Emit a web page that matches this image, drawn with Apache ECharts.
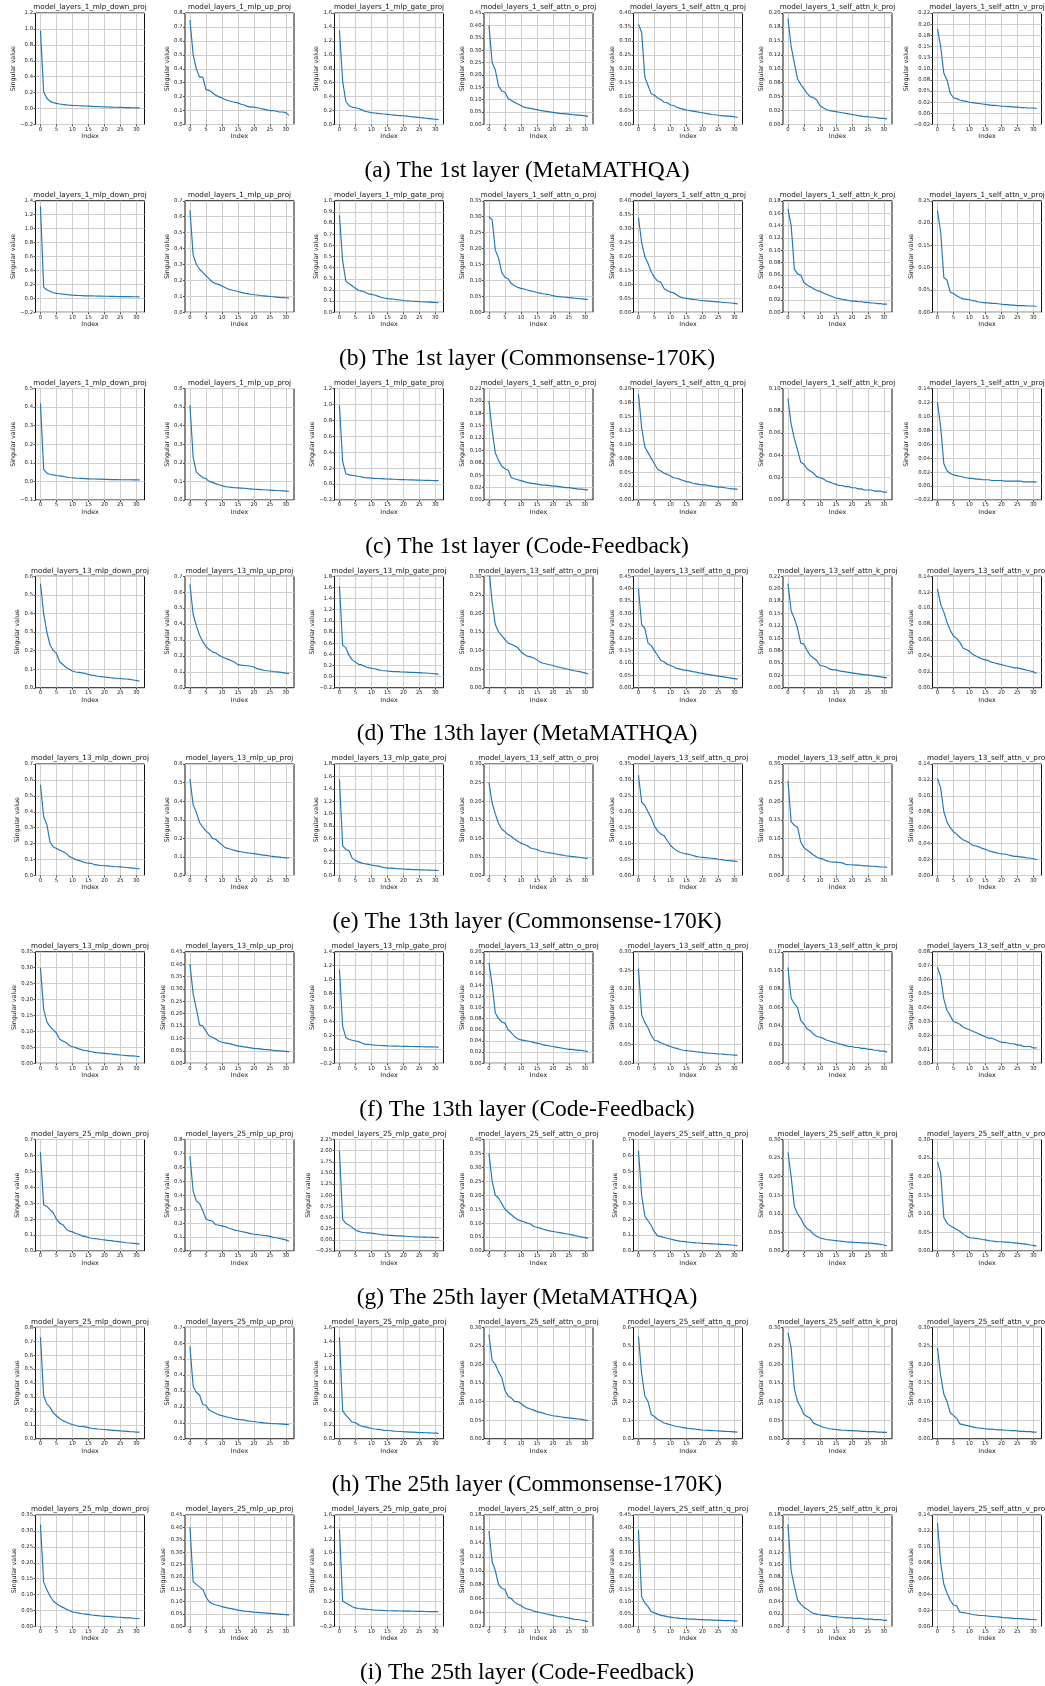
<!DOCTYPE html>
<html><head><meta charset="utf-8">
<script src="https://cdn.jsdelivr.net/npm/echarts@6/dist/echarts.min.js"></script>
<style>html,body{margin:0;padding:0;background:#fff}#c{width:1045px;height:1686px}</style>
</head><body><div id="c"></div>
<script>
// ---------- text ----------
const captions = [
  '(a) The 1st layer (MetaMATHQA)', '(b) The 1st layer (Commonsense-170K)', '(c) The 1st layer (Code-Feedback)',
  '(d) The 13th layer (MetaMATHQA)', '(e) The 13th layer (Commonsense-170K)', '(f) The 13th layer (Code-Feedback)',
  '(g) The 25th layer (MetaMATHQA)', '(h) The 25th layer (Commonsense-170K)', '(i) The 25th layer (Code-Feedback)'
];
const layers = [1, 1, 1, 13, 13, 13, 25, 25, 25];
const modules = ['mlp_down_proj', 'mlp_up_proj', 'mlp_gate_proj', 'self_attn_o_proj', 'self_attn_q_proj', 'self_attn_k_proj', 'self_attn_v_proj'];
const xTicks = [0, 5, 10, 15, 20, 25, 30];

// ---------- singular values (index 0..31), one row of 7 panels each ----------
const rowA = [
  [0.98,0.21,0.13,0.09,0.075,0.065,0.058,0.052,0.047,0.043,0.040,0.038,0.036,0.034,0.032,0.030,0.028,0.026,0.025,0.023,0.022,0.020,0.019,0.017,0.016,0.015,0.013,0.012,0.011,0.010,0.009,0.008],
  [0.75,0.50,0.40,0.34,0.34,0.25,0.245,0.23,0.21,0.20,0.19,0.18,0.17,0.165,0.16,0.155,0.145,0.14,0.13,0.125,0.125,0.12,0.115,0.11,0.105,0.10,0.10,0.095,0.09,0.09,0.085,0.065],
  [1.35,0.62,0.33,0.27,0.25,0.24,0.23,0.21,0.19,0.18,0.17,0.165,0.16,0.155,0.15,0.145,0.14,0.135,0.13,0.128,0.125,0.12,0.115,0.11,0.105,0.10,0.095,0.09,0.085,0.08,0.075,0.07],
  [0.40,0.25,0.22,0.155,0.135,0.13,0.105,0.097,0.09,0.083,0.077,0.07,0.067,0.065,0.062,0.06,0.057,0.055,0.053,0.051,0.049,0.047,0.045,0.044,0.043,0.042,0.040,0.039,0.038,0.037,0.035,0.033],
  [0.36,0.33,0.17,0.14,0.11,0.105,0.095,0.09,0.08,0.078,0.07,0.068,0.062,0.058,0.055,0.052,0.05,0.048,0.046,0.044,0.042,0.04,0.038,0.036,0.035,0.033,0.032,0.031,0.030,0.029,0.028,0.025],
  [0.19,0.14,0.11,0.082,0.072,0.064,0.056,0.05,0.048,0.044,0.034,0.03,0.027,0.025,0.024,0.023,0.022,0.021,0.020,0.019,0.018,0.017,0.016,0.015,0.014,0.014,0.013,0.013,0.012,0.011,0.011,0.010],
  [0.19,0.15,0.09,0.075,0.045,0.035,0.033,0.03,0.028,0.027,0.025,0.024,0.023,0.022,0.021,0.020,0.019,0.018,0.018,0.017,0.016,0.016,0.015,0.015,0.014,0.014,0.013,0.013,0.012,0.012,0.012,0.011]
];
const rowB = [
  [1.32,0.16,0.12,0.10,0.08,0.07,0.065,0.06,0.055,0.05,0.045,0.043,0.04,0.038,0.036,0.035,0.034,0.033,0.032,0.031,0.030,0.029,0.028,0.027,0.026,0.025,0.025,0.024,0.024,0.023,0.022,0.021],
  [0.64,0.36,0.30,0.27,0.25,0.23,0.21,0.19,0.18,0.175,0.165,0.155,0.145,0.14,0.135,0.13,0.125,0.12,0.117,0.113,0.11,0.108,0.105,0.103,0.101,0.099,0.097,0.095,0.093,0.092,0.091,0.089],
  [0.87,0.46,0.28,0.255,0.235,0.215,0.195,0.19,0.18,0.165,0.16,0.155,0.145,0.135,0.128,0.122,0.12,0.117,0.113,0.11,0.105,0.103,0.101,0.099,0.097,0.095,0.094,0.092,0.091,0.089,0.087,0.085],
  [0.30,0.29,0.195,0.17,0.125,0.11,0.105,0.09,0.083,0.078,0.075,0.073,0.07,0.067,0.065,0.062,0.06,0.058,0.057,0.055,0.052,0.05,0.049,0.048,0.047,0.046,0.045,0.044,0.043,0.042,0.041,0.040],
  [0.34,0.25,0.20,0.175,0.145,0.125,0.112,0.108,0.085,0.078,0.072,0.07,0.062,0.055,0.052,0.05,0.048,0.046,0.045,0.043,0.042,0.041,0.040,0.039,0.038,0.037,0.036,0.035,0.034,0.033,0.032,0.030],
  [0.167,0.14,0.07,0.062,0.06,0.048,0.044,0.041,0.038,0.035,0.034,0.031,0.029,0.027,0.025,0.023,0.022,0.021,0.020,0.019,0.018,0.018,0.017,0.017,0.016,0.016,0.015,0.015,0.014,0.014,0.013,0.013],
  [0.228,0.18,0.078,0.072,0.045,0.042,0.037,0.033,0.03,0.029,0.028,0.026,0.025,0.023,0.022,0.021,0.021,0.020,0.020,0.019,0.018,0.017,0.017,0.016,0.016,0.015,0.015,0.015,0.014,0.014,0.014,0.013]
];
const rowC = [
  [0.42,0.065,0.045,0.037,0.035,0.032,0.03,0.027,0.024,0.021,0.02,0.018,0.017,0.016,0.015,0.014,0.013,0.013,0.012,0.012,0.011,0.011,0.010,0.010,0.010,0.009,0.009,0.009,0.009,0.008,0.008,0.008],
  [0.51,0.23,0.15,0.135,0.12,0.115,0.10,0.095,0.088,0.082,0.077,0.072,0.07,0.068,0.066,0.065,0.064,0.063,0.061,0.06,0.058,0.057,0.056,0.055,0.054,0.053,0.052,0.051,0.05,0.049,0.048,0.047],
  [0.99,0.28,0.13,0.115,0.11,0.105,0.095,0.09,0.08,0.078,0.075,0.072,0.07,0.068,0.066,0.064,0.062,0.06,0.058,0.056,0.055,0.054,0.053,0.052,0.05,0.049,0.048,0.047,0.046,0.045,0.044,0.043],
  [0.20,0.14,0.095,0.08,0.068,0.063,0.06,0.045,0.043,0.041,0.039,0.037,0.035,0.034,0.033,0.032,0.031,0.030,0.030,0.029,0.028,0.028,0.027,0.026,0.025,0.025,0.024,0.023,0.022,0.022,0.021,0.020],
  [0.19,0.13,0.095,0.085,0.075,0.065,0.055,0.052,0.048,0.046,0.043,0.04,0.039,0.037,0.035,0.033,0.032,0.030,0.029,0.028,0.027,0.027,0.026,0.025,0.024,0.023,0.023,0.022,0.021,0.020,0.020,0.019],
  [0.091,0.068,0.055,0.045,0.034,0.032,0.028,0.026,0.024,0.021,0.02,0.019,0.017,0.016,0.015,0.014,0.013,0.013,0.012,0.012,0.011,0.011,0.010,0.010,0.009,0.009,0.009,0.008,0.008,0.008,0.007,0.007],
  [0.12,0.085,0.032,0.022,0.018,0.016,0.015,0.014,0.013,0.012,0.011,0.011,0.010,0.010,0.009,0.009,0.009,0.008,0.008,0.008,0.008,0.007,0.007,0.007,0.007,0.007,0.007,0.006,0.006,0.006,0.006,0.006]
];
const rowD = [
  [0.56,0.40,0.30,0.23,0.20,0.185,0.14,0.125,0.11,0.10,0.09,0.085,0.083,0.08,0.077,0.072,0.068,0.065,0.062,0.06,0.058,0.056,0.054,0.052,0.051,0.05,0.048,0.047,0.045,0.042,0.039,0.036],
  [0.65,0.46,0.39,0.33,0.29,0.26,0.24,0.225,0.22,0.205,0.195,0.185,0.178,0.17,0.16,0.145,0.142,0.14,0.138,0.135,0.13,0.12,0.115,0.11,0.107,0.105,0.102,0.10,0.098,0.095,0.092,0.09],
  [1.62,0.56,0.52,0.38,0.30,0.26,0.22,0.21,0.18,0.16,0.15,0.14,0.125,0.11,0.105,0.10,0.095,0.09,0.088,0.085,0.083,0.08,0.077,0.075,0.072,0.07,0.067,0.065,0.06,0.055,0.05,0.045],
  [0.32,0.23,0.17,0.15,0.14,0.13,0.12,0.117,0.113,0.108,0.097,0.09,0.085,0.083,0.08,0.075,0.069,0.066,0.064,0.062,0.06,0.057,0.055,0.053,0.051,0.049,0.047,0.045,0.044,0.042,0.040,0.037],
  [0.40,0.255,0.24,0.18,0.17,0.15,0.13,0.11,0.105,0.095,0.09,0.085,0.078,0.075,0.072,0.07,0.068,0.065,0.063,0.06,0.058,0.055,0.053,0.051,0.049,0.047,0.045,0.043,0.041,0.039,0.037,0.035],
  [0.21,0.155,0.14,0.12,0.09,0.088,0.075,0.065,0.06,0.055,0.045,0.044,0.042,0.038,0.036,0.036,0.034,0.033,0.032,0.031,0.030,0.029,0.028,0.027,0.026,0.026,0.025,0.024,0.023,0.022,0.021,0.020],
  [0.124,0.105,0.095,0.082,0.072,0.065,0.062,0.057,0.05,0.048,0.046,0.042,0.04,0.038,0.036,0.035,0.034,0.032,0.031,0.030,0.029,0.028,0.027,0.026,0.025,0.025,0.024,0.023,0.022,0.021,0.020,0.018]
];
const rowE = [
  [0.57,0.37,0.32,0.21,0.18,0.17,0.16,0.15,0.14,0.12,0.11,0.10,0.095,0.088,0.08,0.078,0.075,0.068,0.065,0.063,0.061,0.06,0.058,0.056,0.055,0.054,0.052,0.05,0.048,0.046,0.044,0.042],
  [0.52,0.38,0.34,0.285,0.26,0.24,0.225,0.20,0.195,0.18,0.165,0.15,0.145,0.14,0.135,0.13,0.128,0.125,0.122,0.12,0.118,0.115,0.112,0.11,0.108,0.105,0.103,0.101,0.099,0.097,0.095,0.094],
  [1.55,0.48,0.42,0.40,0.28,0.24,0.22,0.20,0.19,0.18,0.17,0.16,0.155,0.14,0.13,0.12,0.118,0.115,0.11,0.108,0.105,0.10,0.098,0.096,0.094,0.092,0.09,0.088,0.086,0.084,0.082,0.08],
  [0.25,0.195,0.165,0.14,0.125,0.118,0.11,0.105,0.098,0.092,0.087,0.084,0.08,0.074,0.072,0.07,0.066,0.064,0.062,0.061,0.06,0.058,0.056,0.055,0.053,0.052,0.051,0.05,0.049,0.048,0.047,0.045],
  [0.315,0.23,0.22,0.20,0.18,0.155,0.14,0.13,0.125,0.11,0.095,0.085,0.078,0.073,0.07,0.068,0.066,0.063,0.06,0.058,0.057,0.056,0.055,0.054,0.053,0.051,0.05,0.048,0.047,0.046,0.045,0.043],
  [0.255,0.145,0.135,0.13,0.09,0.075,0.068,0.062,0.055,0.05,0.046,0.044,0.04,0.037,0.036,0.036,0.035,0.034,0.030,0.029,0.029,0.028,0.028,0.027,0.026,0.026,0.025,0.025,0.024,0.023,0.023,0.022],
  [0.122,0.11,0.08,0.067,0.06,0.055,0.052,0.048,0.045,0.043,0.041,0.038,0.037,0.036,0.034,0.033,0.031,0.030,0.029,0.028,0.027,0.027,0.026,0.025,0.024,0.024,0.023,0.023,0.022,0.022,0.021,0.020]
];
const rowF = [
  [0.30,0.17,0.13,0.115,0.105,0.095,0.075,0.07,0.065,0.056,0.052,0.049,0.045,0.042,0.04,0.038,0.036,0.034,0.033,0.032,0.031,0.030,0.029,0.028,0.027,0.026,0.025,0.024,0.023,0.023,0.022,0.021],
  [0.40,0.28,0.22,0.155,0.15,0.13,0.11,0.105,0.098,0.09,0.085,0.082,0.08,0.077,0.073,0.07,0.068,0.066,0.064,0.062,0.06,0.059,0.058,0.056,0.055,0.054,0.052,0.051,0.05,0.049,0.048,0.046],
  [1.15,0.33,0.17,0.14,0.13,0.12,0.11,0.09,0.075,0.07,0.065,0.06,0.058,0.055,0.053,0.05,0.048,0.046,0.045,0.044,0.043,0.042,0.041,0.040,0.039,0.038,0.037,0.036,0.035,0.034,0.033,0.032],
  [0.18,0.14,0.09,0.08,0.074,0.072,0.06,0.055,0.048,0.044,0.042,0.041,0.040,0.039,0.037,0.036,0.035,0.033,0.032,0.031,0.030,0.029,0.028,0.027,0.026,0.025,0.025,0.024,0.023,0.023,0.022,0.021],
  [0.255,0.13,0.11,0.095,0.075,0.062,0.06,0.055,0.052,0.048,0.045,0.042,0.04,0.037,0.035,0.034,0.033,0.032,0.031,0.030,0.029,0.028,0.027,0.027,0.026,0.025,0.025,0.024,0.023,0.023,0.022,0.022],
  [0.103,0.07,0.064,0.06,0.046,0.042,0.037,0.035,0.031,0.029,0.028,0.027,0.025,0.024,0.023,0.022,0.021,0.020,0.019,0.018,0.018,0.017,0.017,0.016,0.016,0.015,0.015,0.014,0.014,0.013,0.013,0.012],
  [0.069,0.062,0.046,0.038,0.034,0.030,0.029,0.028,0.026,0.025,0.024,0.023,0.022,0.021,0.020,0.019,0.018,0.018,0.017,0.016,0.015,0.015,0.0145,0.014,0.014,0.013,0.013,0.012,0.012,0.012,0.011,0.011]
];
const rowG = [
  [0.62,0.29,0.28,0.26,0.24,0.20,0.175,0.165,0.14,0.125,0.12,0.11,0.105,0.095,0.09,0.085,0.08,0.078,0.075,0.072,0.07,0.067,0.065,0.062,0.06,0.057,0.055,0.052,0.05,0.048,0.046,0.043],
  [0.68,0.43,0.36,0.34,0.29,0.23,0.22,0.215,0.19,0.185,0.18,0.175,0.165,0.158,0.15,0.145,0.14,0.135,0.13,0.125,0.12,0.118,0.115,0.112,0.11,0.105,0.098,0.095,0.09,0.085,0.08,0.07],
  [2.0,0.46,0.37,0.33,0.28,0.22,0.19,0.17,0.16,0.155,0.15,0.14,0.13,0.12,0.11,0.105,0.10,0.095,0.09,0.088,0.085,0.08,0.075,0.07,0.068,0.065,0.062,0.06,0.058,0.055,0.052,0.05],
  [0.35,0.25,0.20,0.19,0.17,0.15,0.14,0.13,0.12,0.112,0.108,0.105,0.10,0.097,0.088,0.085,0.082,0.078,0.075,0.072,0.07,0.068,0.066,0.064,0.062,0.06,0.058,0.055,0.053,0.05,0.048,0.046],
  [0.63,0.35,0.22,0.19,0.16,0.12,0.095,0.09,0.085,0.08,0.075,0.07,0.065,0.062,0.06,0.057,0.055,0.053,0.051,0.05,0.048,0.047,0.046,0.045,0.044,0.043,0.042,0.041,0.040,0.038,0.036,0.032],
  [0.265,0.20,0.12,0.10,0.088,0.07,0.06,0.055,0.045,0.04,0.035,0.033,0.031,0.03,0.029,0.028,0.027,0.026,0.025,0.024,0.024,0.023,0.023,0.022,0.022,0.021,0.021,0.020,0.019,0.018,0.016,0.014],
  [0.24,0.21,0.09,0.075,0.068,0.063,0.058,0.053,0.046,0.04,0.036,0.035,0.034,0.033,0.031,0.030,0.028,0.027,0.026,0.025,0.025,0.024,0.024,0.023,0.022,0.021,0.020,0.019,0.018,0.016,0.015,0.013]
];
const rowH = [
  [0.73,0.31,0.25,0.225,0.185,0.165,0.145,0.13,0.12,0.11,0.102,0.095,0.09,0.088,0.085,0.08,0.075,0.073,0.07,0.068,0.066,0.064,0.062,0.06,0.058,0.056,0.055,0.053,0.051,0.05,0.048,0.047],
  [0.58,0.33,0.29,0.275,0.215,0.21,0.18,0.17,0.16,0.15,0.145,0.14,0.135,0.13,0.125,0.122,0.12,0.117,0.112,0.11,0.108,0.105,0.103,0.10,0.098,0.096,0.095,0.094,0.093,0.092,0.090,0.088],
  [1.46,0.40,0.34,0.29,0.24,0.23,0.20,0.18,0.17,0.16,0.15,0.14,0.135,0.13,0.12,0.118,0.115,0.11,0.107,0.104,0.10,0.098,0.096,0.094,0.092,0.09,0.088,0.086,0.084,0.082,0.08,0.078],
  [0.28,0.21,0.20,0.18,0.165,0.13,0.115,0.11,0.10,0.10,0.095,0.088,0.083,0.08,0.077,0.073,0.071,0.069,0.066,0.064,0.062,0.061,0.06,0.058,0.057,0.056,0.055,0.054,0.053,0.052,0.05,0.049],
  [0.55,0.35,0.23,0.20,0.13,0.12,0.105,0.095,0.085,0.08,0.075,0.07,0.066,0.063,0.06,0.057,0.055,0.053,0.051,0.049,0.047,0.046,0.045,0.044,0.043,0.042,0.041,0.040,0.039,0.038,0.037,0.036],
  [0.285,0.245,0.135,0.10,0.085,0.065,0.06,0.055,0.042,0.038,0.035,0.031,0.029,0.027,0.026,0.025,0.024,0.023,0.023,0.022,0.022,0.021,0.021,0.020,0.020,0.019,0.019,0.019,0.018,0.018,0.017,0.017],
  [0.245,0.17,0.12,0.10,0.07,0.063,0.055,0.04,0.038,0.036,0.034,0.032,0.030,0.029,0.028,0.027,0.026,0.026,0.025,0.024,0.024,0.023,0.023,0.022,0.022,0.021,0.020,0.020,0.019,0.019,0.018,0.018]
];
const rowI = [
  [0.32,0.14,0.115,0.095,0.08,0.072,0.065,0.06,0.055,0.05,0.046,0.044,0.042,0.04,0.039,0.038,0.036,0.035,0.034,0.033,0.032,0.032,0.031,0.030,0.029,0.029,0.028,0.027,0.027,0.026,0.025,0.025],
  [0.40,0.18,0.17,0.16,0.15,0.12,0.10,0.092,0.088,0.085,0.08,0.077,0.074,0.072,0.069,0.066,0.064,0.062,0.061,0.06,0.058,0.057,0.056,0.055,0.054,0.053,0.052,0.051,0.050,0.049,0.048,0.047],
  [1.37,0.21,0.18,0.15,0.12,0.10,0.09,0.085,0.08,0.075,0.07,0.065,0.062,0.06,0.058,0.056,0.055,0.053,0.052,0.05,0.049,0.048,0.047,0.046,0.045,0.044,0.043,0.042,0.041,0.040,0.039,0.038],
  [0.157,0.113,0.10,0.08,0.075,0.073,0.062,0.06,0.055,0.052,0.05,0.047,0.045,0.044,0.042,0.041,0.040,0.039,0.038,0.037,0.036,0.035,0.034,0.034,0.033,0.032,0.031,0.030,0.030,0.029,0.028,0.027],
  [0.39,0.12,0.095,0.08,0.06,0.055,0.05,0.045,0.043,0.04,0.038,0.036,0.035,0.033,0.032,0.031,0.030,0.030,0.029,0.028,0.028,0.027,0.027,0.026,0.026,0.025,0.025,0.024,0.024,0.023,0.023,0.022],
  [0.165,0.09,0.065,0.043,0.036,0.031,0.028,0.024,0.021,0.02,0.019,0.018,0.018,0.017,0.016,0.016,0.015,0.015,0.014,0.014,0.014,0.013,0.013,0.013,0.012,0.012,0.012,0.011,0.011,0.011,0.010,0.010],
  [0.13,0.08,0.053,0.042,0.033,0.027,0.026,0.018,0.0175,0.017,0.016,0.015,0.0145,0.014,0.0138,0.0135,0.013,0.0127,0.0123,0.012,0.0115,0.011,0.0108,0.0105,0.0102,0.010,0.0098,0.0096,0.0093,0.009,0.0088,0.0086]
];

// ---------- y axes: lowest tick, tick step, tick labels (bottom to top) ----------
const yMinA = [-0.2, 0, 0, 0, 0, 0, -0.025];
const yStepA = [0.2, 0.1, 0.2, 0.05, 0.05, 0.025, 0.025];
const yLabA = ['−0.2 0.0 0.2 0.4 0.6 0.8 1.0 1.2', '0.0 0.1 0.2 0.3 0.4 0.5 0.6 0.7 0.8', '0.0 0.2 0.4 0.6 0.8 1.0 1.2 1.4 1.6',
  '0.00 0.05 0.10 0.15 0.20 0.25 0.30 0.35 0.40 0.45', '0.00 0.05 0.10 0.15 0.20 0.25 0.30 0.35 0.40',
  '0.00 0.02 0.05 0.08 0.10 0.12 0.15 0.18 0.20', '−0.02 0.00 0.02 0.05 0.08 0.10 0.13 0.15 0.18 0.20 0.22'];
const yMinB = [-0.2, 0, 0, 0, 0, 0, 0];
const yStepB = [0.2, 0.1, 0.1, 0.05, 0.05, 0.02, 0.05];
const yLabB = ['−0.2 0.0 0.2 0.4 0.6 0.8 1.0 1.2 1.4', '0.0 0.1 0.2 0.3 0.4 0.5 0.6 0.7', '0.0 0.1 0.2 0.3 0.4 0.5 0.6 0.7 0.8 0.9 1.0',
  '0.00 0.05 0.10 0.15 0.20 0.25 0.30 0.35', '0.00 0.05 0.10 0.15 0.20 0.25 0.30 0.35 0.40',
  '0.00 0.02 0.04 0.06 0.08 0.10 0.12 0.14 0.16 0.18', '0.00 0.05 0.10 0.15 0.20 0.25'];
const yMinC = [-0.1, 0, -0.2, 0, 0, 0, -0.02];
const yStepC = [0.1, 0.1, 0.2, 0.025, 0.025, 0.02, 0.02];
const yLabC = ['−0.1 0.0 0.1 0.2 0.3 0.4 0.5', '0.0 0.1 0.2 0.3 0.4 0.5 0.6', '−0.2 0.0 0.2 0.4 0.6 0.8 1.0 1.2',
  '0.00 0.02 0.05 0.08 0.10 0.12 0.15 0.18 0.20 0.22', '0.00 0.02 0.05 0.08 0.10 0.12 0.15 0.18 0.20',
  '0.00 0.02 0.04 0.06 0.08 0.10', '−0.02 0.00 0.02 0.04 0.06 0.08 0.10 0.12 0.14'];
const yMinD = [0, 0, -0.2, 0, 0, 0, 0];
const yStepD = [0.1, 0.1, 0.2, 0.05, 0.05, 0.025, 0.02];
const yLabD = ['0.0 0.1 0.2 0.3 0.4 0.5 0.6', '0.0 0.1 0.2 0.3 0.4 0.5 0.6 0.7', '−0.2 0.0 0.2 0.4 0.6 0.8 1.0 1.2 1.4 1.6 1.8',
  '0.00 0.05 0.10 0.15 0.20 0.25 0.30', '0.00 0.05 0.10 0.15 0.20 0.25 0.30 0.35 0.40 0.45',
  '0.00 0.02 0.05 0.08 0.10 0.12 0.15 0.18 0.20 0.22', '0.00 0.02 0.04 0.06 0.08 0.10 0.12 0.14'];
const yMinE = [0, 0, 0, 0, 0, 0, 0];
const yStepE = [0.1, 0.1, 0.2, 0.05, 0.05, 0.05, 0.02];
const yLabE = ['0.0 0.1 0.2 0.3 0.4 0.5 0.6 0.7', '0.0 0.1 0.2 0.3 0.4 0.5 0.6', '0.0 0.2 0.4 0.6 0.8 1.0 1.2 1.4 1.6 1.8',
  '0.00 0.05 0.10 0.15 0.20 0.25 0.30', '0.00 0.05 0.10 0.15 0.20 0.25 0.30 0.35',
  '0.00 0.05 0.10 0.15 0.20 0.25 0.30', '0.00 0.02 0.04 0.06 0.08 0.10 0.12 0.14'];
const yMinF = [0, 0, -0.2, 0, 0, 0, 0];
const yStepF = [0.05, 0.05, 0.2, 0.02, 0.05, 0.02, 0.01];
const yLabF = ['0.00 0.05 0.10 0.15 0.20 0.25 0.30 0.35', '0.00 0.05 0.10 0.15 0.20 0.25 0.30 0.35 0.40 0.45', '−0.2 0.0 0.2 0.4 0.6 0.8 1.0 1.2 1.4',
  '0.00 0.02 0.04 0.06 0.08 0.10 0.12 0.14 0.16 0.18 0.20', '0.00 0.05 0.10 0.15 0.20 0.25 0.30',
  '0.00 0.02 0.04 0.06 0.08 0.10 0.12', '0.00 0.01 0.02 0.03 0.04 0.05 0.06 0.07 0.08'];
const yMinG = [0, 0, -0.25, 0, 0, 0, 0];
const yStepG = [0.1, 0.1, 0.25, 0.05, 0.1, 0.05, 0.05];
const yLabG = ['0.0 0.1 0.2 0.3 0.4 0.5 0.6 0.7', '0.0 0.1 0.2 0.3 0.4 0.5 0.6 0.7 0.8', '−0.25 0.00 0.25 0.50 0.75 1.00 1.25 1.50 1.75 2.00 2.25',
  '0.00 0.05 0.10 0.15 0.20 0.25 0.30 0.35 0.40', '0.0 0.1 0.2 0.3 0.4 0.5 0.6 0.7',
  '0.00 0.05 0.10 0.15 0.20 0.25 0.30', '0.00 0.05 0.10 0.15 0.20 0.25 0.30'];
const yMinH = [0, 0, 0, 0, 0, 0, 0];
const yStepH = [0.1, 0.1, 0.2, 0.05, 0.1, 0.05, 0.05];
const yLabH = ['0.0 0.1 0.2 0.3 0.4 0.5 0.6 0.7 0.8', '0.0 0.1 0.2 0.3 0.4 0.5 0.6 0.7', '0.0 0.2 0.4 0.6 0.8 1.0 1.2 1.4 1.6',
  '0.00 0.05 0.10 0.15 0.20 0.25 0.30', '0.0 0.1 0.2 0.3 0.4 0.5 0.6',
  '0.00 0.05 0.10 0.15 0.20 0.25 0.30', '0.00 0.05 0.10 0.15 0.20 0.25 0.30'];
const yMinI = [0, 0, -0.2, 0.02, 0, 0, 0];
const yStepI = [0.05, 0.05, 0.2, 0.02, 0.05, 0.02, 0.02];
const yLabI = ['0.00 0.05 0.10 0.15 0.20 0.25 0.30 0.35', '0.00 0.05 0.10 0.15 0.20 0.25 0.30 0.35 0.40 0.45', '−0.2 0.0 0.2 0.4 0.6 0.8 1.0 1.2 1.4 1.6',
  '0.02 0.04 0.06 0.08 0.10 0.12 0.14 0.16 0.18', '0.00 0.05 0.10 0.15 0.20 0.25 0.30 0.35 0.40 0.45',
  '0.00 0.02 0.04 0.06 0.08 0.10 0.12 0.14 0.16 0.18', '0.00 0.02 0.04 0.06 0.08 0.10 0.12 0.14'];

// ---------- build ----------
const rows = [rowA, rowB, rowC, rowD, rowE, rowF, rowG, rowH, rowI];
const yMins = [yMinA, yMinB, yMinC, yMinD, yMinE, yMinF, yMinG, yMinH, yMinI];
const ySteps = [yStepA, yStepB, yStepC, yStepD, yStepE, yStepF, yStepG, yStepH, yStepI];
const yLabs = [yLabA, yLabB, yLabC, yLabD, yLabE, yLabF, yLabG, yLabH, yLabI];

const L = {
  left0: 35.5, dx: 149.5, width: 109,
  top0: 13, dy: 187.75, height: 111.5,
  tickFont: 5.3, nameFont: 6.3, titleFont: 7.2, capFont: 23.5
};
const FONT = '"DejaVu Sans", sans-serif';
const meas = document.createElement('canvas').getContext('2d');
meas.font = L.tickFont + 'px DejaVu Sans';

const grid = [], xAxis = [], yAxis = [], series = [], graphic = [];
rows.forEach((row, r) => {
  row.forEach((vals, c) => {
    const k = grid.length;
    const left = L.left0 + L.dx * c, top = L.top0 + L.dy * r;
    grid.push({left, top, width: L.width, height: L.height, show: true, borderColor: '#111', borderWidth: 1,
      backgroundColor: '#fff', containLabel: false, outerBoundsMode: 'none'});
    xAxis.push({
      type: 'value', gridIndex: k, min: -1.55, max: 32.55, position: 'bottom',
      name: 'Index', nameLocation: 'middle', nameGap: 9.3, nameMoveOverlap: false,
      nameTextStyle: {fontSize: L.nameFont, fontFamily: FONT, color: '#222'},
      axisLine: {show: false, onZero: false},
      axisTick: {show: true, inside: false, length: 2, customValues: xTicks, lineStyle: {color: '#222', width: 0.8}},
      axisLabel: {customValues: xTicks, fontSize: L.tickFont, fontFamily: FONT, color: '#222', margin: 2.6,
        showMinLabel: true, showMaxLabel: true},
      splitLine: {show: true, lineStyle: {color: '#cfcfcf', width: 1}}
    });
    const labs = yLabs[r][c].split(' ');
    const mn = yMins[r][c], st = ySteps[r][c];
    const ticks = labs.map((s, i) => +(mn + i * st).toFixed(6));
    const maxW = Math.max(...labs.map(s => meas.measureText(s).width));
    yAxis.push({
      type: 'value', gridIndex: k, min: ticks[0], max: ticks[ticks.length - 1], position: 'left',
      name: 'Singular value', nameLocation: 'middle', nameGap: maxW + 6.5, nameMoveOverlap: false,
      nameTextStyle: {fontSize: L.nameFont, fontFamily: FONT, color: '#222'},
      axisLine: {show: false, onZero: false},
      axisTick: {show: true, inside: false, length: 2, customValues: ticks, lineStyle: {color: '#222', width: 0.8}},
      axisLabel: {customValues: ticks, fontSize: L.tickFont, fontFamily: FONT, color: '#222', margin: 2.5,
        showMinLabel: true, showMaxLabel: true,
        formatter: v => labs[Math.round((v - mn) / st)] ?? ''},
      splitLine: {show: true, lineStyle: {color: '#cfcfcf', width: 1}}
    });
    series.push({
      type: 'line', xAxisIndex: k, yAxisIndex: k, showSymbol: false, symbol: 'none', clip: true,
      lineStyle: {color: '#1f77b4', width: 1.15}, data: vals.map((v, i) => [i, v])
    });
    graphic.push({type: 'text', x: left + L.width / 2, y: top - 5.6, silent: true,
      style: {text: 'model_layers_' + layers[r] + '_' + modules[c], font: L.titleFont + 'px ' + FONT,
        fill: '#111', textAlign: 'center', textVerticalAlign: 'middle'}});
  });
  graphic.push({type: 'text', x: 527, y: 171 + L.dy * r, silent: true,
    style: {text: captions[r], font: L.capFont + 'px "Liberation Serif", "Times New Roman", serif',
      fill: '#000', textAlign: 'center', textVerticalAlign: 'middle'}});
});

const chart = echarts.init(document.getElementById('c'), null, {renderer: 'canvas'});
chart.setOption({animation: false, backgroundColor: '#fff', grid, xAxis, yAxis, series, graphic});
</script></body></html>
